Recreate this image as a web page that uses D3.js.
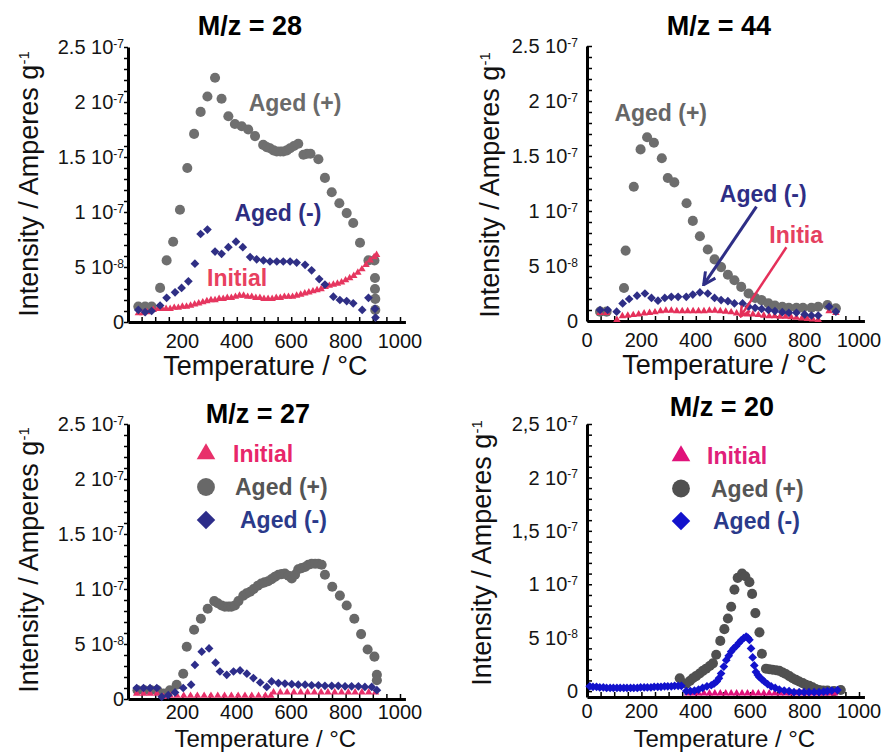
<!DOCTYPE html>
<html>
<head>
<meta charset="utf-8">
<script src="https://cdn.jsdelivr.net/npm/d3@7"></script>
<style>
body{margin:0;background:#fff}
text{font-family:"Liberation Sans",Arial,sans-serif}
</style>
</head>
<body>
<div id="vis"></div>
<script>
'use strict';

// values in units of 1e-8 A/g, temperature in °C

var tempTicks = [0, 200, 400, 600, 800, 1000];
var yTickValues = [0, 5, 10, 15, 20, 25];
var yTickDot = ['0', '5 10', '1 10', '1.5 10', '2 10', '2.5 10'];
var yTickComma = ['0', '5 10', '1 10', '1,5 10', '2 10', '2,5 10'];
var yTickExp = ['', '-8', '-7', '-7', '-7', '-7'];
var seriesNames = ['Initial', 'Aged (+)', 'Aged (-)'];

// M/z = 28
var m28AgedPlus = [[38,1.4],[63,1.4],[87,1.4],[118,3.1],[142,5.6],[166,7.3],[191,10.2],[218,14.0],[243,17.1],[267,19.1],[292,20.5],[320,22.2],[344,20.3],[369,18.7],[393,18.0],[418,17.8],[442,17.5],[467,16.9],[497,16.1],[510,15.9],[522,15.8],[535,15.6],[547,15.5],[560,15.5],[571,15.5],[584,15.6],[596,15.8],[610,16.0],[626,16.2],[645,15.2],[658,15.3],[671,15.3],[700,14.8],[724,13.1],[749,11.8],[777,10.8],[804,9.9],[828,9.0],[853,7.2],[884,5.6],[906,5.6],[908,4.0],[908,3.0],[909,2.1],[909,1.1]];
var m28AgedMinus = [[38,1.1],[63,0.9],[87,1.0],[118,1.5],[142,2.2],[173,2.7],[197,3.1],[222,3.7],[246,5.3],[267,8.0],[292,8.4],[320,6.4],[344,6.2],[369,6.8],[397,7.3],[422,6.8],[449,5.9],[473,5.7],[498,5.6],[522,5.5],[547,5.5],[571,5.5],[596,5.5],[620,5.4],[651,5.2],[675,4.7],[703,3.9],[724,3.4],[755,2.3],[779,2.0],[804,1.9],[828,1.7],[861,1.1],[884,2.2],[908,1.2],[910,0.4]];
var m28Initial = [[38,0.8],[55,0.8],[70,0.9],[93,1.1],[110,1.2],[125,1.2],[140,1.2],[155,1.2],[170,1.3],[185,1.3],[200,1.4],[215,1.4],[230,1.5],[245,1.6],[260,1.7],[275,1.8],[290,1.9],[305,2.0],[320,2.0],[335,2.1],[350,2.1],[365,2.2],[380,2.2],[395,2.3],[410,2.4],[425,2.4],[440,2.3],[455,2.3],[470,2.2],[485,2.2],[500,2.1],[515,2.1],[530,2.1],[545,2.2],[560,2.2],[575,2.3],[590,2.3],[605,2.3],[620,2.4],[635,2.5],[650,2.6],[665,2.7],[680,2.8],[695,2.9],[710,3.0],[725,3.2],[740,3.3],[755,3.4],[770,3.5],[785,3.6],[800,3.8],[815,4.0],[830,4.2],[845,4.5],[860,4.8],[875,5.2],[890,5.6],[905,5.9],[914,6.1]];

// M/z = 44
var m44AgedPlus = [[48,0.85],[72,0.85],[136,3.0],[142,6.4],[172,12.2],[197,15.6],[221,16.7],[246,16.2],[275,14.8],[297,13.0],[321,12.6],[366,10.7],[389,9.1],[415,7.7],[444,6.5],[469,5.6],[493,4.9],[518,4.2],[542,3.7],[567,3.1],[594,2.5],[618,2.1],[642,1.9],[667,1.6],[691,1.4],[718,1.3],[742,1.2],[770,1.2],[794,1.2],[825,1.2],[850,1.3],[884,1.45],[915,1.15]];
var m44AgedMinus = [[48,1.0],[76,1.0],[109,0.85],[131,1.6],[155,2.0],[184,2.3],[213,2.5],[237,2.1],[261,1.85],[286,2.1],[310,2.2],[335,2.2],[365,2.2],[389,2.4],[415,2.6],[444,2.5],[469,2.1],[493,1.9],[518,1.8],[542,1.6],[572,1.6],[594,1.3],[618,1.2],[642,1.1],[667,1.0],[691,0.9],[718,0.8],[742,0.75],[770,0.75],[800,0.6],[825,0.5],[850,0.5],[890,1.3],[915,0.85]];
var m44Initial = [[48,0.75],[72,0.75],[110,0.1],[130,0.45],[150,0.5],[170,0.55],[190,0.6],[210,0.7],[230,0.75],[250,0.8],[270,0.9],[290,0.95],[310,0.95],[330,0.9],[350,0.9],[370,0.9],[390,0.9],[410,0.9],[430,0.9],[450,0.95],[470,0.95],[490,0.9],[510,0.85],[530,0.8],[550,0.7],[570,0.65],[590,0.6],[610,0.6],[630,0.55],[650,0.5],[670,0.45],[690,0.45],[710,0.4],[730,0.4],[750,0.35],[770,0.3],[790,0.25],[810,0.2],[830,0.15],[850,0.1],[890,0.9],[915,0.75]];

// M/z = 27
var m27AgedPlus = [[35,0.8],[60,0.8],[85,0.8],[108,0.8],[130,0.5],[154,0.8],[179,1.3],[203,2.3],[216,4.75],[243,6.3],[268,7.3],[293,8.2],[317,8.9],[330,8.7],[344,8.5],[356,8.4],[369,8.4],[380,8.4],[393,8.5],[406,8.9],[424,9.4],[436,9.6],[449,9.75],[462,10.0],[477,10.3],[490,10.5],[502,10.6],[515,10.7],[528,10.9],[540,11.1],[553,11.3],[565,11.35],[577,11.4],[590,11.2],[602,10.95],[614,11.3],[626,11.8],[638,11.9],[651,12.0],[663,12.2],[675,12.3],[688,12.3],[700,12.3],[712,12.2],[724,11.3],[751,10.2],[779,9.4],[804,8.5],[832,7.3],[857,5.9],[881,4.5],[906,3.85],[915,2.2],[915,1.7]];
var m27AgedMinus = [[32,1.0],[57,1.0],[81,1.0],[106,1.0],[124,0.2],[148,0.35],[173,0.6],[203,1.0],[232,1.3],[246,3.1],[271,4.3],[298,4.6],[322,3.3],[338,2.5],[363,2.2],[388,2.5],[412,2.6],[437,2.3],[461,1.9],[486,1.5],[510,1.1],[528,1.6],[553,1.45],[577,1.4],[602,1.35],[626,1.3],[651,1.3],[675,1.25],[700,1.25],[724,1.2],[749,1.2],[773,1.2],[798,1.15],[822,1.15],[847,1.15],[871,1.1],[896,1.1],[915,0.8]];
var m27Initial = [[32,0.5],[57,0.5],[81,0.5],[106,0.5],[130,0.2],[155,0.3],[180,0.3],[205,0.3],[230,0.3],[255,0.3],[280,0.3],[305,0.3],[330,0.3],[355,0.3],[380,0.3],[405,0.3],[430,0.3],[455,0.3],[480,0.3],[505,0.3],[525,0.3],[535,0.6],[560,0.6],[585,0.6],[610,0.6],[635,0.6],[660,0.6],[685,0.6],[710,0.6],[735,0.6],[760,0.6],[785,0.6],[810,0.6],[835,0.6],[860,0.6],[885,0.6],[910,0.6]];

// M/z = 20
var m20AgedPlus = [[341,1.2],[365,0.7],[378,0.95],[389,1.2],[401,1.4],[414,1.65],[426,1.9],[438,2.1],[451,2.35],[463,2.6],[475,3.4],[490,4.7],[505,5.8],[518,6.8],[530,7.9],[542,9.5],[554,10.6],[570,11.0],[582,10.75],[597,10.2],[607,9.1],[619,7.3],[634,5.5],[643,3.5],[658,2.1],[670,2.05],[682,2.0],[695,1.95],[707,1.9],[719,1.75],[731,1.6],[744,1.4],[756,1.2],[768,1.05],[780,0.9],[793,0.75],[805,0.6],[817,0.5],[829,0.35],[841,0.2],[853,0.1],[868,0.05],[884,0.05],[908,0.0],[933,0.1]];
var m20AgedMinus = [[10,0.45],[22,0.4],[35,0.4],[47,0.35],[60,0.35],[72,0.3],[85,0.3],[97,0.3],[110,0.3],[122,0.3],[135,0.3],[147,0.3],[160,0.3],[172,0.3],[185,0.3],[197,0.35],[210,0.35],[222,0.35],[235,0.35],[247,0.4],[260,0.4],[272,0.4],[285,0.45],[297,0.45],[310,0.45],[322,0.5],[335,0.5],[347,0.5],[365,0.0],[380,0.0],[395,0.05],[410,0.15],[425,0.3],[441,0.45],[457,0.55],[467,0.7],[477,0.9],[485,1.2],[493,1.65],[503,2.3],[512,2.9],[521,3.3],[530,3.7],[539,4.0],[548,4.2],[558,4.5],[567,4.75],[576,4.95],[585,5.1],[591,5.0],[597,4.8],[603,4.0],[609,3.15],[615,2.4],[621,1.8],[628,1.5],[634,1.3],[643,1.1],[652,0.9],[664,0.65],[677,0.45],[692,0.3],[707,0.15],[725,0.05],[743,0.0],[761,-0.1],[780,-0.1],[798,-0.1],[816,-0.1],[835,-0.1],[853,-0.1],[870,-0.05],[884,0.0],[900,0.05],[921,0.1]];
var m20Initial = [[370,-0.2],[390,-0.2],[410,-0.2],[430,-0.2],[450,-0.2],[470,-0.2],[490,-0.2],[510,-0.2],[530,-0.2],[550,-0.2],[570,-0.2],[590,-0.2],[610,-0.2],[630,-0.2],[650,-0.2],[670,-0.2],[690,-0.2],[710,-0.2],[730,-0.2],[750,-0.2],[770,-0.2],[790,-0.2],[810,-0.2],[830,-0.2],[850,-0.2],[870,-0.2],[890,-0.2],[910,-0.2]];

var svg = d3.select('#vis')
  .append('svg')
  .attr('width', 888)
  .attr('height', 752)
  .style('background', '#fff');

var defs = svg.append('defs');
function arrowMarker(id, color){
  defs.append('marker')
    .attr('id', id)
    .attr('viewBox', '0 0 10 10')
    .attr('refX', 9).attr('refY', 5)
    .attr('markerWidth', 5).attr('markerHeight', 5)
    .attr('orient', 'auto')
    .append('path')
    .attr('d', 'M1,1 L9,5 L1,9')
    .attr('fill', 'none')
    .attr('stroke', color)
    .attr('stroke-width', 2);
}
arrowMarker('arrBlue', '#2e2e86');
arrowMarker('arrPink', '#e5305a');

var panels = [
  {title: 'M/z = 28', tx: 250, ty: 35, x0: 128, yBottom: 322, yTop: 47, yMin: 0, tBase: 53, tickOff: 26, tSize: 27,
   tickIn: false, labelX: 124, yLabels: yTickDot, showZero: false, yTitleX: 38, yTitleY: 184,
   plus: m28AgedPlus, minus: m28AgedMinus, init: m28Initial,
   cPlus: '#6f6f6f', cMinus: '#2f2f85', cInit: '#e6365f',
   notes: [{t: 'Aged (+)', T: 614, v: 19.9, c: '#6a6a6a'}, {t: 'Aged (-)', T: 551, v: 9.9, c: '#2d2d80'}, {t: 'Initial', T: 401, v: 4.0, c: '#e8405f'}],
   arrows: [], legend: null},
  {title: 'M/z = 44', tx: 719, ty: 35, x0: 587, yBottom: 321, yTop: 46, yMin: 0, tBase: 53, tickOff: 26, tSize: 27,
   tickIn: true, labelX: 578, yLabels: yTickDot, showZero: true, yTitleX: 499, yTitleY: 185,
   plus: m44AgedPlus, minus: m44AgedMinus, init: m44Initial,
   cPlus: '#6d6d6d', cMinus: '#2e2e86', cInit: '#e5305a',
   notes: [{t: 'Aged (+)', T: 271, v: 18.9, c: '#666'}, {t: 'Aged (-)', T: 648, v: 11.6, c: '#2e2e86'}, {t: 'Initia', T: 769, v: 7.8, c: '#e5405f'}],
   arrows: [{T1: 623, v1: 10.4, T2: 429, v2: 3.3, c: '#2e2e86', m: 'arrBlue', w: 3}, {T1: 733, v1: 6.7, T2: 564, v2: 0.4, c: '#e5305a', m: 'arrPink', w: 2.5}],
   legend: null},
  {title: 'M/z = 27', tx: 258, ty: 423, x0: 128, yBottom: 699, yTop: 424, yMin: 0, tBase: 48, tickOff: 20, tSize: 24,
   tickIn: false, labelX: 124, yLabels: yTickDot, showZero: false, yTitleX: 38, yTitleY: 560,
   plus: m27AgedPlus, minus: m27AgedMinus, init: m27Initial,
   cPlus: '#686868', cMinus: '#2d2d8a', cInit: '#e8306a',
   notes: [], arrows: [],
   legend: {sx: 206, sy: 454, dy: 33, tx: [233, 235, 240], c: ['#e8266a', '#555', '#2b3a8a']}},
  {title: 'M/z = 20', tx: 722, ty: 416, x0: 587, yBottom: 697, yTop: 424, yMin: -0.55, tBase: 50, tickOff: 21, tSize: 24,
   tickIn: true, labelX: 578, yLabels: yTickComma, showZero: true, yTitleX: 491, yTitleY: 553,
   plus: m20AgedPlus, minus: m20AgedMinus, init: m20Initial,
   cPlus: '#505050', cMinus: '#1212cc', cInit: '#e0127a',
   notes: [], arrows: [],
   legend: {sx: 681, sy: 456, dy: 32.5, tx: [707, 711, 713], c: ['#e0207a', '#555', '#2a3a8a']}}
];

var circleSym = d3.symbol().type(d3.symbolCircle).size(80);
var triSym = d3.symbol().type(d3.symbolTriangle).size(24);
var diaSym = d3.symbol().type(d3.symbolSquare).size(38);

function drawPanel(p){
  var g = svg.append('g');
  var x = d3.scaleLinear().domain([0, 1000]).range([p.x0, p.x0 + 272]);
  var y = d3.scaleLinear().domain([p.yMin, 25]).range([p.yBottom, p.yTop]);

  // axes
  var xa = d3.scaleLinear().domain([0, 1020]).range([x(0), x(1020)]);
  var xAxis = g.append('g')
    .attr('transform', 'translate(0,' + p.yBottom + ')')
    .call(d3.axisBottom(xa).tickValues(d3.range(0, 1001, 50)).tickSize(-5).tickSizeOuter(0).tickFormat(''));
  xAxis.select('.domain').attr('stroke-width', 3);
  xAxis.selectAll('.tick line').attr('stroke-width', 1.5);

  var yAxis = g.append('g')
    .attr('transform', 'translate(' + x(0) + ',0)')
    .call(d3.axisLeft(y).tickValues(d3.range(0, 26, 1)).tickSize(p.tickIn ? -5 : 4).tickSizeOuter(0).tickFormat(''));
  yAxis.select('.domain').attr('stroke-width', 3);
  yAxis.selectAll('.tick line').attr('stroke-width', 1.5);

  // y tick labels
  yTickValues.forEach(function(v, i){
    var t = g.append('text')
      .attr('x', p.labelX)
      .attr('y', y(v))
      .attr('dy', '0.36em')
      .attr('text-anchor', 'end')
      .attr('font-size', 20)
      .attr('fill', '#151515')
      .text(p.yLabels[i]);
    if (yTickExp[i]) {
      t.append('tspan').attr('dy', '-0.55em').attr('font-size', 12).text(yTickExp[i]);
    }
  });

  // x tick labels
  tempTicks.forEach(function(t){
    if (t === 0 && !p.showZero) return;
    g.append('text')
      .attr('x', x(t))
      .attr('y', p.yBottom + p.tickOff)
      .attr('text-anchor', 'middle')
      .attr('font-size', 20)
      .attr('fill', '#111')
      .text(t);
  });

  // axis titles
  g.append('text')
    .attr('x', x(505))
    .attr('y', p.yBottom + p.tBase)
    .attr('text-anchor', 'middle')
    .attr('font-size', p.tSize)
    .attr('fill', '#111')
    .text('Temperature / °C');

  var yt = g.append('text')
    .attr('transform', 'translate(' + p.yTitleX + ',' + p.yTitleY + ') rotate(-90)')
    .attr('text-anchor', 'middle')
    .attr('font-size', 27)
    .attr('fill', '#111')
    .text('Intensity / Amperes g');
  yt.append('tspan').attr('dy', '-0.6em').attr('font-size', 15).text('-1');

  g.append('text')
    .attr('x', p.tx).attr('y', p.ty)
    .attr('text-anchor', 'middle')
    .attr('font-size', 27)
    .attr('font-weight', 'bold')
    .attr('fill', '#000')
    .text(p.title);

  // series: Aged (+), Initial, Aged (-)
  g.append('g').selectAll('path').data(p.plus).enter().append('path')
    .attr('d', circleSym)
    .attr('transform', function(d){ return 'translate(' + x(d[0]) + ',' + y(d[1]) + ')'; })
    .attr('fill', p.cPlus);
  g.append('g').selectAll('path').data(p.init).enter().append('path')
    .attr('d', triSym)
    .attr('transform', function(d){ return 'translate(' + x(d[0]) + ',' + y(d[1]) + ')'; })
    .attr('fill', p.cInit);
  g.append('g').selectAll('path').data(p.minus).enter().append('path')
    .attr('d', diaSym)
    .attr('transform', function(d){ return 'translate(' + x(d[0]) + ',' + y(d[1]) + ') rotate(45)'; })
    .attr('fill', p.cMinus);

  // annotations
  p.notes.forEach(function(n){
    g.append('text')
      .attr('x', x(n.T)).attr('y', y(n.v))
      .attr('dy', '0.36em')
      .attr('text-anchor', 'middle')
      .attr('font-size', 23)
      .attr('font-weight', 'bold')
      .attr('fill', n.c)
      .text(n.t);
  });
  p.arrows.forEach(function(a){
    g.append('line')
      .attr('x1', x(a.T1)).attr('y1', y(a.v1))
      .attr('x2', x(a.T2)).attr('y2', y(a.v2))
      .attr('stroke', a.c).attr('stroke-width', a.w)
      .attr('marker-end', 'url(#' + a.m + ')');
  });

  // legend
  if (p.legend) {
    var L = p.legend;
    var syms = [d3.symbol().type(d3.symbolTriangle).size(150), d3.symbol().type(d3.symbolCircle).size(250), d3.symbol().type(d3.symbolSquare).size(170)];
    var cols = [p.cInit, p.cPlus, p.cMinus];
    seriesNames.forEach(function(name, i){
      g.append('path')
        .attr('d', syms[i])
        .attr('transform', 'translate(' + L.sx + ',' + (L.sy + i * L.dy) + ')' + (i === 2 ? ' rotate(45)' : ''))
        .attr('fill', cols[i]);
      g.append('text')
        .attr('x', L.tx[i]).attr('y', L.sy + i * L.dy)
        .attr('dy', '0.36em')
        .attr('font-size', 23)
        .attr('font-weight', 'bold')
        .attr('fill', L.c[i])
        .text(name);
    });
  }
}

panels.forEach(drawPanel);
</script>
</body>
</html>
